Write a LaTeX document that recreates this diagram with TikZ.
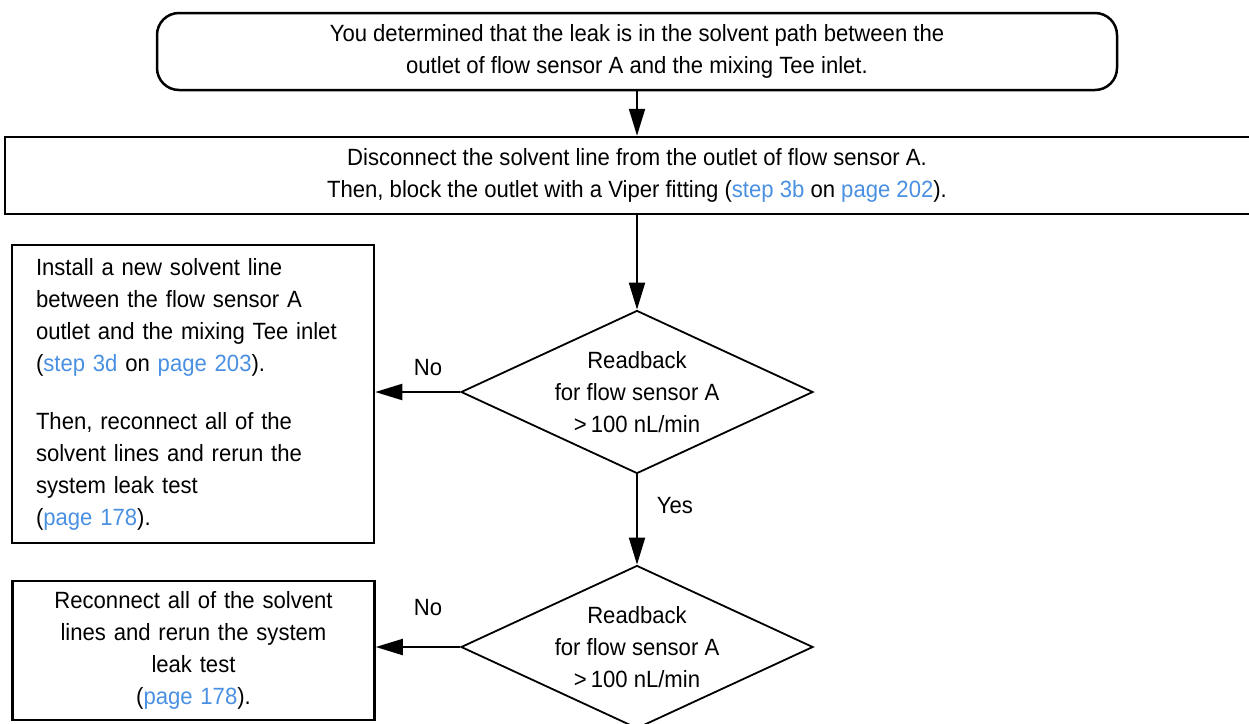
\documentclass[tikz,border=0pt]{standalone}
\usepackage{fontspec}
\setmainfont{Liberation Sans}[FakeStretch=0.94]
\usetikzlibrary{shapes.geometric,arrows.meta}
\definecolor{link}{RGB}{74,144,226}
\newcommand{\lnk}[1]{\textcolor{link}{#1}}
\begin{document}
\begin{tikzpicture}[x=1pt,y=-1pt,
  every node/.style={font=\fontsize{23.5}{32}\selectfont, inner sep=0pt},
  term/.style={draw, line width=2.5pt, rounded corners=22pt, minimum width=960pt, minimum height=77pt, align=center},
  procbox/.style={draw, line width=2.5pt, align=center},
  dia/.style={draw, diamond, line width=1.8pt, minimum width=352pt, minimum height=163pt},
  arr/.style={line width=2pt, -{Triangle[length=27pt,width=16pt]}}]
\useasboundingbox (0,0) rectangle (1249,723);
\clip (0,0) rectangle (1249,723);

\node[term] (start) at (637,51.5) {You determined that the leak is in the solvent path between the\\outlet of flow sensor A and the mixing Tee inlet.};

\node[procbox, minimum width=1264pt, minimum height=77pt] (disc) at (637,175.5) {Disconnect the solvent line from the outlet of flow sensor A.\\Then, block the outlet with a Viper fitting (\lnk{step 3b} on \lnk{page 202}).};

\node[dia] (q1) at (637,392) {};
\node[align=center] (q1t) at (q1) {Readback\\for flow sensor A\\>\,100 nL/min};

\node[procbox, align=left, text width=314pt, inner xsep=24pt, minimum height=298pt] (install) at (193,394) {Install a new solvent line\\between the flow sensor A\\outlet and the mixing Tee inlet\\(\lnk{step 3d} on \lnk{page 203}).\\[26pt]Then, reconnect all of the\\solvent lines and rerun the\\system leak test\\(\lnk{page 178}).};

\node[dia] (q2) at (637,647) {};
\node[align=center] (q2t) at (q2) {Readback\\for flow sensor A\\>\,100 nL/min};

\node[procbox, text width=314pt, inner xsep=24pt, minimum height=139pt] (recon) at (193.5,650.5) {Reconnect all of the solvent\\lines and rerun the system\\leak test\\(\lnk{page 178}).};

\node (no1) at (428,368) {No};
\node (yes) at (675,506) {Yes};
\node (no2) at (428,608) {No};

\draw[arr] (start.south) -- (disc.north);
\draw[arr] (disc.south) -- (q1.north);
\draw[arr] (q1.west) -- (q1.west -| install.east);
\draw[arr] (q1.south) -- (q2.north);
\draw[arr] (q2.west) -- (q2.west -| recon.east);
\end{tikzpicture}
\end{document}
